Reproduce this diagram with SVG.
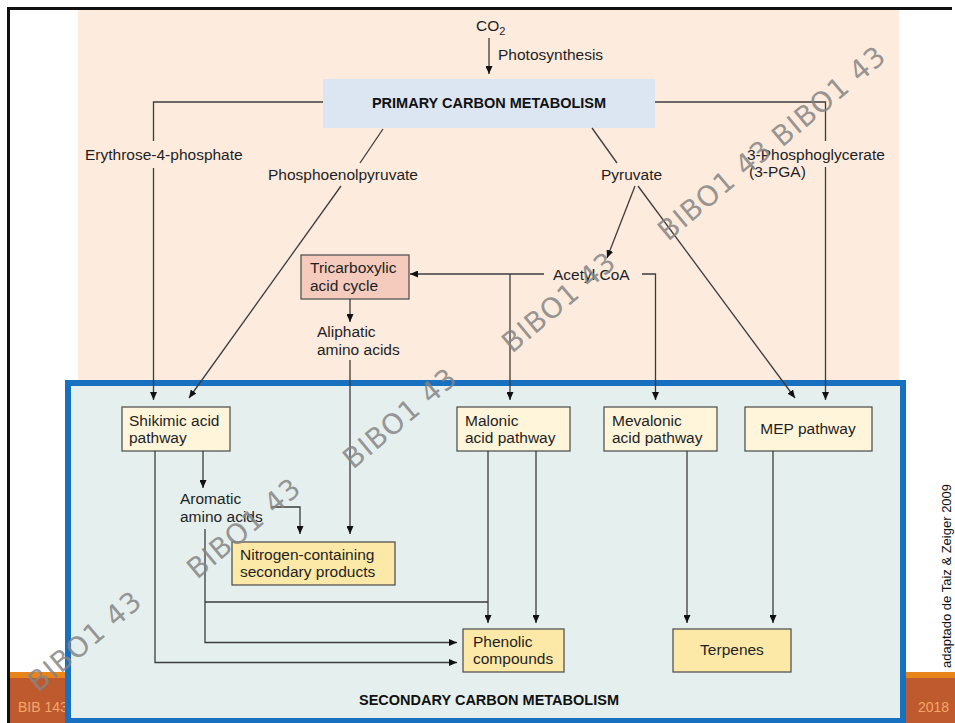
<svg xmlns="http://www.w3.org/2000/svg" width="955" height="723" viewBox="0 0 955 723">
<defs>
<style>
.lbl{font-family:"Liberation Sans",Arial,sans-serif;font-size:15.5px;fill:#1e1e24}
.title{font-family:"Liberation Sans",Arial,sans-serif;font-size:14.5px;font-weight:bold;fill:#111}
.ln{fill:none;stroke:#3c3c3c;stroke-width:1.3}
.lna{fill:none;stroke:#3c3c3c;stroke-width:1.3;marker-end:url(#ah)}
.sec{fill:#FEF5DA;stroke:#555;stroke-width:1.3}
.fin{fill:#FDE9A7;stroke:#555;stroke-width:1.3}
.wm{font-family:"DejaVu Sans",Arial,sans-serif;font-size:28px;letter-spacing:1px;fill:#858585;fill-opacity:0.85}
.foot{font-family:"Liberation Sans",Arial,sans-serif;font-size:14px;fill:#F2A868}
</style>
<marker id="ah" markerWidth="8" markerHeight="7" refX="8" refY="3.5" orient="auto" markerUnits="userSpaceOnUse">
<path d="M0,0 L8,3.5 L0,7 z" fill="#111"/>
</marker>
</defs>

<!-- page background -->
<rect x="0" y="0" width="955" height="723" fill="#fff"/>
<rect x="78" y="10" width="821" height="374" fill="#FDEBDD"/>
<rect x="10" y="672" width="945" height="6" fill="#E8841A"/>
<rect x="10" y="678" width="945" height="45" fill="#BF5A2E"/>
<text class="foot" x="18" y="712">BIB 143</text>
<text class="foot" x="918" y="712">2018</text>
<path d="M8.5,723 V8.5 H952" fill="none" stroke="#111" stroke-width="3"/>

<!-- secondary region -->
<g id="secondary-region">
<rect x="68" y="383" width="835" height="338" fill="#E5EFEE" stroke="#1870C0" stroke-width="6"/>
<text class="title" x="489" y="705" text-anchor="middle">SECONDARY CARBON METABOLISM</text>
</g>

<text x="951" y="668" transform="rotate(-90 951 668)" font-family="Liberation Sans, Arial, sans-serif" font-size="13" fill="#111">adaptado de Taiz &amp; Zeiger 2009</text>

<g id="co2">
<text class="lbl" x="476" y="31">CO<tspan font-size="11" dy="4">2</tspan></text>
</g>

<g id="primary">
<rect x="323" y="79" width="332" height="49" fill="#DCE6F2"/>
<text class="title" x="489" y="108" text-anchor="middle">PRIMARY CARBON METABOLISM</text>
</g>

<g id="labels">
<text class="lbl" x="498" y="60">Photosynthesis</text>
<text class="lbl" x="85" y="160">Erythrose-4-phosphate</text>
<text class="lbl" x="268" y="180">Phosphoenolpyruvate</text>
<text class="lbl" x="601" y="180">Pyruvate</text>
<text class="lbl" x="747" y="160">3-Phosphoglycerate</text>
<text class="lbl" x="749" y="177">(3-PGA)</text>
</g>

<g id="acetyl-coa">
<text class="lbl" x="553" y="280">Acetyl CoA</text>
</g>

<g id="tca">
<rect x="301" y="255" width="108" height="44" fill="#F5CBBE" stroke="#555" stroke-width="1.3"/>
<text class="lbl" x="310" y="273">Tricarboxylic</text>
<text class="lbl" x="310" y="291">acid cycle</text>
</g>

<g id="aliphatic">
<text class="lbl" x="317" y="337">Aliphatic</text>
<text class="lbl" x="317" y="355">amino acids</text>
</g>

<g id="shikimic">
<rect class="sec" x="122" y="407" width="108" height="44"/>
<text class="lbl" x="129" y="426">Shikimic acid</text>
<text class="lbl" x="129" y="443">pathway</text>
</g>

<g id="malonic">
<rect class="sec" x="457" y="407" width="113" height="44"/>
<text class="lbl" x="465" y="426">Malonic</text>
<text class="lbl" x="465" y="443">acid pathway</text>
</g>

<g id="mevalonic">
<rect class="sec" x="604" y="407" width="113" height="44"/>
<text class="lbl" x="612" y="426">Mevalonic</text>
<text class="lbl" x="612" y="443">acid pathway</text>
</g>

<g id="mep">
<rect class="sec" x="745" y="407" width="127" height="44"/>
<text class="lbl" x="808" y="434" text-anchor="middle">MEP pathway</text>
</g>

<g id="aromatic">
<text class="lbl" x="180" y="504">Aromatic</text>
<text class="lbl" x="180" y="522">amino acids</text>
</g>

<g id="nitrogen">
<rect class="fin" x="232" y="542" width="163" height="43"/>
<text class="lbl" x="240" y="560">Nitrogen-containing</text>
<text class="lbl" x="240" y="577">secondary products</text>
</g>

<g id="phenolic">
<rect class="fin" x="463" y="629" width="101" height="43"/>
<text class="lbl" x="473" y="647">Phenolic</text>
<text class="lbl" x="473" y="664">compounds</text>
</g>

<g id="terpenes">
<rect class="fin" x="673" y="629" width="118" height="43"/>
<text class="lbl" x="732" y="655" text-anchor="middle">Terpenes</text>
</g>

<g id="connectors">
<path class="lna" d="M489,38 V74"/>
<path class="ln" d="M323,102 H153.5 V141"/>
<path class="lna" d="M153.5,168 V400"/>
<path class="ln" d="M383,129 L360,163"/>
<path class="lna" d="M341,186 L189,398"/>
<path class="ln" d="M592,128 L617,163"/>
<path class="lna" d="M635,186 L607,258"/>
<path class="lna" d="M638,186 L795,398"/>
<path class="ln" d="M655,102 H825.5 V141"/>
<path class="lna" d="M825.5,167 V400"/>
<path class="lna" d="M544,274 H410"/>
<path class="lna" d="M510,274 V400"/>
<path class="lna" d="M642,274 H655.5 V400"/>
<path class="lna" d="M350,299 V322"/>
<path class="lna" d="M350,360 V534"/>
<path class="lna" d="M203,451 V488"/>
<path class="lna" d="M271,507 H300 V534"/>
<path class="lna" d="M155,451 V662.5 H457"/>
<path class="lna" d="M205,529 V642.5 H457"/>
<path class="ln" d="M205,602 H488"/>
<path class="lna" d="M488,451 V623"/>
<path class="lna" d="M536,451 V623"/>
<path class="lna" d="M687,451 V623"/>
<path class="lna" d="M773,451 V623"/>
</g>

<g id="watermarks">
<text class="wm" x="668" y="242" transform="rotate(-40 668 242)">BIBO1 43</text>
<text class="wm" x="782" y="148" transform="rotate(-40 782 148)">BIBO1 43</text>
<text class="wm" x="512" y="354" transform="rotate(-40 512 354)">BIBO1 43</text>
<text class="wm" x="353" y="470" transform="rotate(-40 353 470)">BIBO1 43</text>
<text class="wm" x="197" y="580" transform="rotate(-40 197 580)">BIBO1 43</text>
<text class="wm" x="38" y="693" transform="rotate(-40 38 693)">BIBO1 43</text>
</g>
</svg>
